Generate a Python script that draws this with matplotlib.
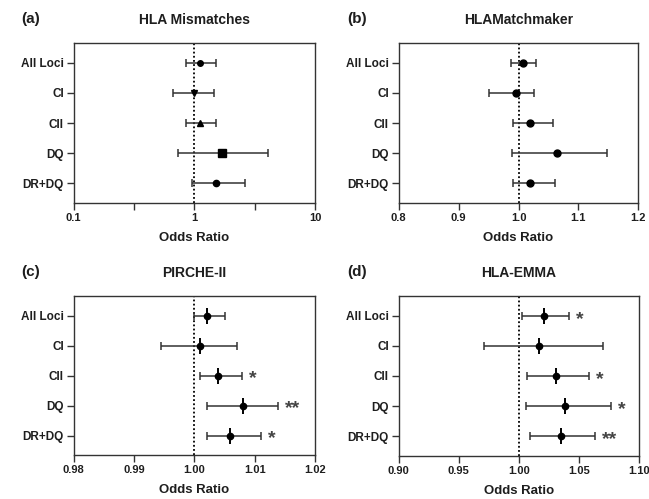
import matplotlib
matplotlib.use("Agg")
import matplotlib.pyplot as plt
import numpy as np
from matplotlib.ticker import FixedLocator, NullLocator, FixedFormatter

plt.rcParams["font.family"] = ["Liberation Sans", "DejaVu Sans"]
plt.rcParams["font.weight"] = "bold"

categories = ["All Loci", "CI", "CII", "DQ", "DR+DQ"]

# HLA Mismatches (log scale)
mm_or = [1.12, 0.99, 1.12, 1.71, 1.52]
mm_lo = [0.85, 0.67, 0.85, 0.74, 0.95]
mm_hi = [1.51, 1.47, 1.51, 4.11, 2.61]
mm_markers = ["o", "v", "^", "s", "o"]
mm_sizes = [4.0, 5.0, 4.5, 5.5, 4.5]

# HLAMatchmaker
hm_or = [1.0075, 0.995, 1.019, 1.064, 1.019]
hm_lo = [0.988, 0.950, 0.991, 0.989, 0.990]
hm_hi = [1.030, 1.026, 1.057, 1.148, 1.061]

# PIRCHE-II
pi_or = [1.0021, 1.0010, 1.0040, 1.0081, 1.0059]
pi_lo = [1.0000, 0.9945, 1.0009, 1.0021, 1.0021]
pi_hi = [1.0051, 1.0070, 1.0079, 1.0138, 1.0110]
pi_sig = ["", "", "*", "**", "*"]

# HLA-EMMA
em_or = [1.021, 1.017, 1.031, 1.038, 1.035]
em_lo = [1.003, 0.971, 1.007, 1.006, 1.009]
em_hi = [1.042, 1.070, 1.058, 1.077, 1.063]
em_sig = ["*", "", "*", "*", "**"]

INK = "#1e1e1e"
BAR = "#333333"

fig = plt.figure(figsize=(6.49, 4.99), dpi=100)
W, H = 649.0, 499.0


def make_axes(left, top, right, bottom):
    return fig.add_axes([left / W, 1 - bottom / H, (right - left) / W, (bottom - top) / H])


def style_axes(ax, title, tag, xticks, xlabels, xlim):
    ax.set_xlim(*xlim)
    ax.set_ylim(len(categories) - 0.35, -0.65)
    ax.set_yticks(range(len(categories)))
    ax.set_yticklabels(categories, fontsize=8.5, fontweight="bold", color=INK)
    ax.xaxis.set_major_locator(FixedLocator(xticks))
    ax.xaxis.set_minor_locator(NullLocator())
    ax.xaxis.set_major_formatter(FixedFormatter(xlabels))
    for lab in ax.get_xticklabels():
        lab.set_fontsize(8)
        lab.set_fontweight("bold")
        lab.set_color(INK)
    ax.tick_params(axis="both", direction="out", length=5, width=1, color=BAR, pad=2)
    for sp in ax.spines.values():
        sp.set_linewidth(1.0)
        sp.set_color(BAR)
    ax.set_xlabel("Odds Ratio", fontsize=9.5, fontweight="bold", color=INK, labelpad=7)
    ax.set_title(title, fontsize=10, fontweight="bold", color=INK, pad=14)
    ax.text(-0.215, 1.15, tag, transform=ax.transAxes, fontsize=11, fontweight="bold",
            color=INK, ha="left", va="center")


def draw_rows(ax, ors, los, his, markers, sizes, tick=False, capsize=3.0):
    ys = np.arange(len(categories))
    ors = np.asarray(ors)
    err = [ors - np.asarray(los), np.asarray(his) - ors]
    ax.errorbar(ors, ys, xerr=err, fmt="none", ecolor=BAR, elinewidth=1.1,
                capsize=capsize, capthick=1.1, zorder=3)
    for x, y, m, s in zip(ors, ys, markers, sizes):
        ax.plot([x], [y], marker=m, markersize=s, color="black", linestyle="none", zorder=4)
        if tick:
            ax.plot([x], [y], marker="|", markersize=12, markeredgewidth=1.4,
                    color="black", linestyle="none", zorder=4)


def draw_sig(ax, his, sig):
    for y, (hi, s) in enumerate(zip(his, sig)):
        if s:
            ax.annotate(s, xy=(hi, y), xytext=(5, -2.5), textcoords="offset points",
                        ha="left", va="center", fontsize=14, color="#444444")


# (a) HLA Mismatches
ax_a = make_axes(73.5, 43, 315, 203)
ax_a.set_xscale("log")
ax_a.axvline(1.0, color="black", linestyle=(0, (1, 1.3)), linewidth=1.3, zorder=2)
draw_rows(ax_a, mm_or, mm_lo, mm_hi, mm_markers, mm_sizes)
style_axes(ax_a, "HLA Mismatches", "(a)", [0.1, 10 ** -0.5, 1, 10 ** 0.5, 10],
           ["0.1", "", "1", "", "10"], (0.1, 10))

# (b) HLAMatchmaker
ax_b = make_axes(398.7, 43, 638.3, 203)
ax_b.axvline(1.0, color="black", linestyle=(0, (1, 1.3)), linewidth=1.3, zorder=2)
draw_rows(ax_b, hm_or, hm_lo, hm_hi, ["o"] * 5, [5] * 5)
style_axes(ax_b, "HLAMatchmaker", "(b)", [0.8, 0.9, 1.0, 1.1, 1.2],
           ["0.8", "0.9", "1.0", "1.1", "1.2"], (0.8, 1.2))

# (c) PIRCHE-II
ax_c = make_axes(73.5, 296, 315, 455)
ax_c.axvline(1.0, color="black", linestyle=(0, (1, 1.3)), linewidth=1.3, zorder=2)
draw_rows(ax_c, pi_or, pi_lo, pi_hi, ["o"] * 5, [4.5] * 5, tick=True)
draw_sig(ax_c, pi_hi, pi_sig)
style_axes(ax_c, "PIRCHE-II", "(c)", [0.98, 0.99, 1.00, 1.01, 1.02],
           ["0.98", "0.99", "1.00", "1.01", "1.02"], (0.98, 1.02))

# (d) HLA-EMMA
ax_d = make_axes(398.7, 296, 639, 456)
ax_d.axvline(1.0, color="black", linestyle=(0, (1, 1.3)), linewidth=1.3, zorder=2)
draw_rows(ax_d, em_or, em_lo, em_hi, ["o"] * 5, [4.5] * 5, tick=True)
draw_sig(ax_d, em_hi, em_sig)
style_axes(ax_d, "HLA-EMMA", "(d)", [0.90, 0.95, 1.00, 1.05, 1.10],
           ["0.90", "0.95", "1.00", "1.05", "1.10"], (0.90, 1.10))

fig.savefig("out.png", dpi=100)
